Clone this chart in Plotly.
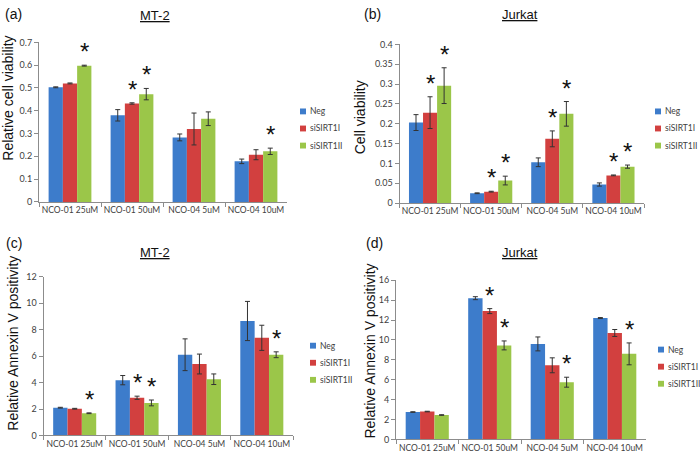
import plotly.graph_objects as go

W, H = 700, 460

categories = ["NCO-01 25uM", "NCO-01 50uM", "NCO-04 5uM", "NCO-04 10uM"]
series_names = ["Neg", "siSIRT1I", "siSIRT1II"]
colors = ["#3D7CCB", "#D2403F", "#9BC649"]

# (a) MT-2 relative cell viability
a_vals = [[0.503, 0.380, 0.283, 0.178],
          [0.520, 0.432, 0.320, 0.207],
          [0.598, 0.473, 0.365, 0.222]]
a_err = [[0.002, 0.025, 0.015, 0.010],
         [0.002, 0.003, 0.070, 0.022],
         [0.002, 0.025, 0.030, 0.014]]
a_sig = [[0, 0, 0, 0], [0, 1, 0, 0], [1, 1, 0, 1]]

# (b) Jurkat cell viability
b_vals = [[0.203, 0.025, 0.103, 0.047],
          [0.228, 0.029, 0.162, 0.070],
          [0.296, 0.057, 0.225, 0.092]]
b_err = [[0.020, 0.001, 0.011, 0.004],
         [0.040, 0.001, 0.020, 0.001],
         [0.045, 0.011, 0.031, 0.004]]
b_sig = [[0, 0, 0, 0], [1, 1, 1, 1], [1, 1, 1, 1]]

# (c) MT-2 relative Annexin V positivity
c_vals = [[2.10, 4.18, 6.10, 8.65],
          [2.02, 2.85, 5.40, 7.38],
          [1.68, 2.46, 4.25, 6.10]]
c_err = [[0.03, 0.35, 1.20, 1.48],
         [0.03, 0.12, 0.75, 0.95],
         [0.03, 0.22, 0.40, 0.22]]
c_sig = [[0, 0, 0, 0], [0, 1, 0, 0], [1, 1, 0, 1]]

# (d) Jurkat relative Annexin V positivity
d_vals = [[2.75, 14.20, 9.60, 12.20],
          [2.80, 12.90, 7.45, 10.70],
          [2.45, 9.45, 5.75, 8.60]]
d_err = [[0.03, 0.15, 0.70, 0.05],
         [0.03, 0.25, 0.75, 0.35],
         [0.03, 0.45, 0.50, 1.10]]
d_sig = [[0, 0, 0, 0], [0, 1, 0, 0], [0, 1, 1, 1]]

panels = [
    dict(vals=a_vals, err=a_err, sig=a_sig, rng=[0, 0.7], dtick=0.1,
         xpx=(39, 287), ypx=(37.3, 200.7), title="MT-2", tx=155, ty=10,
         label="(a)", lx=13, ly=8, ytitle="Relative cell viability", ytx=8, yty=95,
         legx=300, legy=108),
    dict(vals=b_vals, err=b_err, sig=b_sig, rng=[0, 0.4], dtick=0.05,
         xpx=(399.5, 644), ypx=(39.3, 202), title="Jurkat", tx=520, ty=9,
         label="(b)", lx=373, ly=8, ytitle="Cell viability", ytx=360, yty=114,
         legx=655, legy=108),
    dict(vals=c_vals, err=c_err, sig=c_sig, rng=[0, 12], dtick=2,
         xpx=(43.5, 293), ypx=(277.3, 440), title="MT-2", tx=155, ty=253,
         label="(c)", lx=14, ly=243, ytitle="Relative Annexin V positivity", ytx=13, yty=346,
         legx=310, legy=348),
    dict(vals=d_vals, err=d_err, sig=d_sig, rng=[0, 16], dtick=2,
         xpx=(396, 646), ypx=(281, 444), title="Jurkat", tx=520, ty=253,
         label="(d)", lx=374, ly=243, ytitle="Relative Annexin V positivity", ytx=370, yty=354,
         legx=658, legy=352),
]

fig = go.Figure()
annotations = []
shapes = []
BARGAP = 0.31
bw = (1 - BARGAP) / 3
TICKFONT = dict(family="Lato, Liberation Sans, Arial", size=9, color="#404040")
XTICKFONT = dict(family="Lato, Liberation Sans, Arial", size=8.5, color="#404040")
LEGFONT = dict(family="Lato, Liberation Sans, Arial", size=8.5, color="#404040")
AXCOL = "#8c8c8c"

for p_i, p in enumerate(panels):
    n = "" if p_i == 0 else str(p_i + 1)
    xa, ya = "x" + n, "y" + n
    for k in range(3):
        fig.add_trace(go.Bar(
            x=categories, y=p["vals"][k], name=series_names[k],
            marker=dict(color=colors[k], line=dict(width=0)),
            error_y=dict(type="data", array=p["err"][k], color="#333333",
                         thickness=1, width=2.5),
            xaxis=xa, yaxis=ya, showlegend=False, offsetgroup=str(k),
        ))
        for i in range(4):
            if p["sig"][k][i]:
                annotations.append(dict(
                    x=i + (k - 1) * bw, y=p["vals"][k][i] + p["err"][k][i],
                    xref=xa, yref=ya, text="*", showarrow=False,
                    font=dict(family="Liberation Sans, Arial", size=24, color="#111111"),
                    yanchor="bottom", yshift=-2,
                ))
    x0, x1 = p["xpx"]
    y0, y1 = p["ypx"]
    fig.update_layout({
        "xaxis" + n: dict(domain=[x0 / W, x1 / W], anchor=ya, type="category",
                          tickson="boundaries", ticks="outside", ticklen=4, tickangle=0,
                          tickcolor=AXCOL, showline=True, linecolor=AXCOL, linewidth=1,
                          tickfont=XTICKFONT, showgrid=False, zeroline=False, fixedrange=True),
        "yaxis" + n: dict(domain=[1 - y1 / H, 1 - y0 / H], anchor=xa, range=p["rng"],
                          dtick=p["dtick"], tick0=0, ticks="outside", ticklen=4,
                          tickcolor=AXCOL, showline=True, linecolor=AXCOL, linewidth=1,
                          tickfont=TICKFONT, showgrid=False, zeroline=False, fixedrange=True),
    })
    annotations.append(dict(x=p["tx"] / W, y=1 - p["ty"] / H, xref="paper", yref="paper",
                            text="<u>" + p["title"] + "</u>", showarrow=False,
                            font=dict(family="Liberation Sans, Arial", size=13, color="#111111"),
                            xanchor="center", yanchor="middle"))
    annotations.append(dict(x=p["lx"] / W, y=1 - p["ly"] / H, xref="paper", yref="paper",
                            text=p["label"], showarrow=False,
                            font=dict(family="Liberation Sans, Arial", size=14, color="#111111"),
                            xanchor="center", yanchor="middle"))
    annotations.append(dict(x=p["ytx"] / W, y=1 - p["yty"] / H, xref="paper", yref="paper",
                            text=p["ytitle"], showarrow=False, textangle=-90,
                            font=dict(family="Liberation Sans, Arial", size=14, color="#111111"),
                            xanchor="center", yanchor="middle"))
    # legend
    for k in range(3):
        ly = p["legy"] + k * 17.5
        shapes.append(dict(type="rect", xref="paper", yref="paper",
                           x0=p["legx"] / W, x1=(p["legx"] + 6) / W,
                           y0=1 - (ly + 3) / H, y1=1 - (ly - 3) / H,
                           fillcolor=colors[k], line=dict(width=0)))
        annotations.append(dict(x=(p["legx"] + 8) / W, y=1 - ly / H, xref="paper", yref="paper",
                                text=series_names[k], showarrow=False,
                                font=LEGFONT, xanchor="left", yanchor="middle"))

fig.update_layout(
    width=W, height=H, margin=dict(l=0, r=0, t=0, b=0),
    paper_bgcolor="white", plot_bgcolor="white",
    barmode="group", bargap=BARGAP, bargroupgap=0,
    annotations=annotations, shapes=shapes, showlegend=False,
)

fig.write_html("out.html", config={"displayModeBar": False},
               post_script="document.body.style.margin='0';document.body.style.padding='0';"
                           "document.body.style.overflow='hidden';")
